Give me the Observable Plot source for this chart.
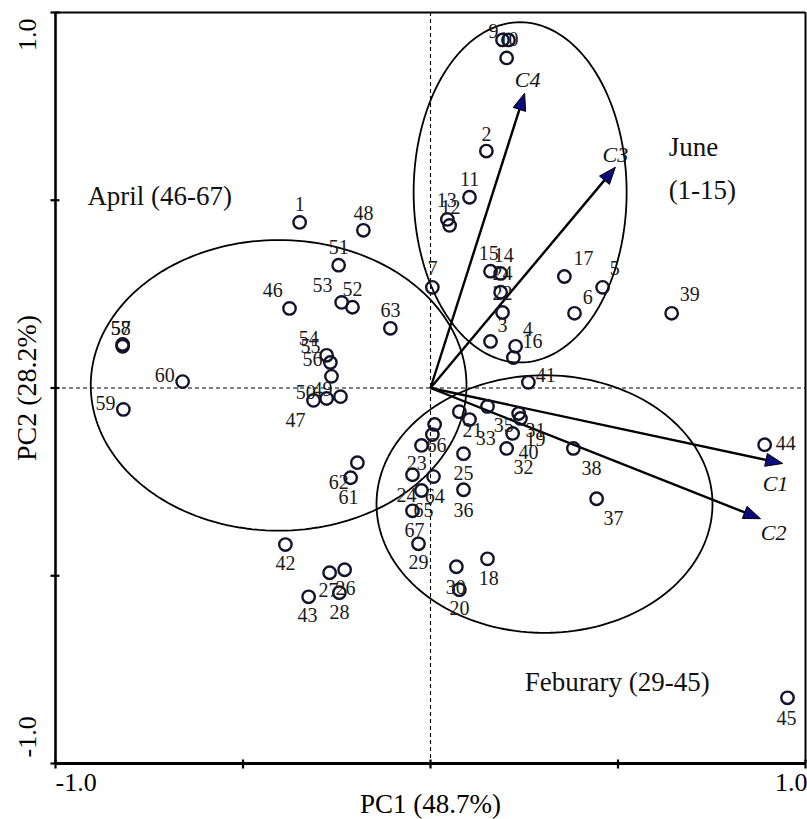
<!DOCTYPE html>
<html>
<head>
<meta charset="utf-8">
<script src="https://cdn.jsdelivr.net/npm/d3@7"></script>
<script src="https://cdn.jsdelivr.net/npm/@observablehq/plot@0.6"></script>
<style>
  html, body { margin: 0; padding: 0; background: #fff; }
  #chart svg { display: block; }
</style>
</head>
<body>
<div id="chart"></div>
<script>
// ---------- data ----------
const pointLabels = ["1","2","3","4","5","6","7","","9","10","11","12","13","14","15","16","17","24","22",
  "21","33","35","31","19","40","32","38","37","25","36","41","39","44","45","18","20","30","29",
  "","66","23","24","64","65","67","46","48","51","52","53","63","54","55","56","50","49","47",
  "57","58","59","60","61","62","42","43","26","27","28"];
const pc1Scores = [-0.349,0.149,0.160,0.227,0.459,0.384,0.005,0.203,0.192,0.208,0.104,0.051,0.045,0.187,0.160,0.221,0.357,0.187,0.192,
  0.077,0.104,0.152,0.235,0.240,0.219,0.203,0.381,0.443,0.088,0.088,0.261,0.643,0.891,0.952,0.152,0.077,0.069,-0.032,
  0.011,0.005,-0.024,-0.048,0.008,-0.024,-0.048,-0.376,-0.179,-0.245,-0.208,-0.237,-0.107,-0.277,-0.267,-0.264,-0.312,-0.277,-0.240,
  -0.821,-0.821,-0.819,-0.661,-0.213,-0.195,-0.387,-0.325,-0.229,-0.269,-0.243];
const pc2Scores = [0.441,0.631,0.124,0.111,0.268,0.199,0.268,0.879,0.927,0.927,0.508,0.433,0.449,0.305,0.311,0.081,0.297,0.255,0.201,
  -0.063,-0.084,-0.049,-0.068,-0.081,-0.121,-0.161,-0.161,-0.295,-0.175,-0.271,0.015,0.199,-0.151,-0.825,-0.455,-0.537,-0.476,-0.415,
  -0.097,-0.124,-0.153,-0.231,-0.236,-0.273,-0.327,0.212,0.420,0.327,0.215,0.228,0.159,0.087,0.068,0.031,-0.033,-0.028,-0.023,
  0.116,0.111,-0.057,0.017,-0.239,-0.199,-0.417,-0.556,-0.484,-0.492,-0.545];
const labelPc1 = [-0.349,0.149,0.192,0.259,0.491,0.419,0.005,0.203,0.168,0.208,0.104,0.053,0.043,0.195,0.155,0.272,0.408,0.192,0.192,
  0.112,0.147,0.195,0.280,0.280,0.261,0.248,0.429,0.488,0.088,0.088,0.307,0.691,0.947,0.949,0.155,0.077,0.067,-0.032,
  0.011,0.016,-0.037,-0.064,0.011,-0.019,-0.043,-0.421,-0.179,-0.245,-0.208,-0.288,-0.107,-0.325,-0.320,-0.315,-0.333,-0.288,-0.360,
  -0.826,-0.826,-0.867,-0.709,-0.219,-0.245,-0.387,-0.328,-0.227,-0.272,-0.243];
const labelPc2 = [0.489,0.676,0.167,0.156,0.319,0.241,0.319,0.879,0.948,0.927,0.556,0.481,0.500,0.353,0.359,0.124,0.345,0.305,0.252,
  -0.113,-0.135,-0.100,-0.113,-0.137,-0.172,-0.212,-0.215,-0.348,-0.228,-0.327,0.033,0.249,-0.148,-0.881,-0.508,-0.588,-0.532,-0.465,
  -0.097,-0.153,-0.201,-0.287,-0.289,-0.327,-0.380,0.260,0.465,0.375,0.263,0.273,0.207,0.132,0.111,0.076,-0.012,-0.004,-0.087,
  0.159,0.159,-0.041,0.033,-0.292,-0.252,-0.468,-0.607,-0.535,-0.540,-0.599];

const variables = ["C1","C2","C3","C4"];
const loadPc1 = [0.939, 0.880, 0.493, 0.251];
const loadPc2 = [-0.201, -0.348, 0.588, 0.785];
const varLabelPc1 = [0.920, 0.915, 0.493, 0.259];
const varLabelPc2 = [-0.255, -0.385, 0.620, 0.820];

const groupNames = ["April", "June", "Feburary"];
const ellipseCx = [-0.405, 0.239, 0.304];
const ellipseCy = [0.007, 0.521, -0.309];
const ellipseRx = [0.501, 0.284, 0.448];
const ellipseRy = [0.387, 0.453, 0.343];

const groupTexts = ["April (46-67)", "June", "(1-15)", "Feburary (29-45)"];
const groupTextPc1 = [-0.915, 0.635, 0.635, 0.251];
const groupTextPc2 = [0.511, 0.641, 0.527, -0.785];

const axisTicks = [-1, -0.5, 0, 0.5, 1];
const tickLabelLow = "-1.0";
const tickLabelHigh = "1.0";
const xTitle = "PC1 (48.7%)";
const yTitle = "PC2 (28.2%)";

// ---------- derived tables ----------
const points = pointLabels.map((label, i) => ({label, x: pc1Scores[i], y: pc2Scores[i], lx: labelPc1[i], ly: labelPc2[i]}));
const vars = variables.map((name, i) => ({name, x: loadPc1[i], y: loadPc2[i], lx: varLabelPc1[i], ly: varLabelPc2[i]}));
const ellipsePts = [];
groupNames.forEach((g, k) => {
  const n = 180;
  for (let j = 0; j <= n; j++) {
    const t = (j / n) * 2 * Math.PI;
    ellipsePts.push({g, x: ellipseCx[k] + ellipseRx[k] * Math.cos(t), y: ellipseCy[k] + ellipseRy[k] * Math.sin(t)});
  }
});
const groupLabelRows = groupTexts.map((t, i) => ({t, x: groupTextPc1[i], y: groupTextPc2[i]}));

const W = 807, H = 819;
const mL = 55, mR = 2, mT = 12, mB = 56;
const pxPerUnit = (W - mL - mR) / 2;
const headLen = 17, headWidth = 13;

function headSymbol(ux, uy) {
  return {
    draw(ctx) {
      const bx = -ux * headLen, by = -uy * headLen;
      const px = -uy, py = ux;
      ctx.moveTo(0, 0);
      ctx.lineTo(bx + px * headWidth / 2, by + py * headWidth / 2);
      ctx.lineTo(bx - px * headWidth / 2, by - py * headWidth / 2);
      ctx.closePath();
    }
  };
}
const arrowLines = vars.map(v => {
  const len = Math.hypot(v.x, v.y);
  const back = (headLen * 0.8) / pxPerUnit;
  return {x1: 0, y1: 0, x2: v.x - v.x / len * back, y2: v.y - v.y / len * back};
});
const headMarks = vars.map(v => {
  const len = Math.hypot(v.x, v.y);
  return Plot.dot([v], {x: "x", y: "y", symbol: headSymbol(v.x / len, -v.y / len), r: 6,
    fill: "#0b0b7a", stroke: "#000", strokeWidth: 1});
});

const yTickSym = {draw(ctx) { ctx.moveTo(-5, 0); ctx.lineTo(4, 0); }};
const xTickSym = {draw(ctx) { ctx.moveTo(0, -4); ctx.lineTo(0, 5); }};

const serif = "'Liberation Serif', 'Times New Roman', Times, serif";

const chart = Plot.plot({
  width: W, height: H,
  marginLeft: mL, marginRight: mR, marginTop: mT, marginBottom: mB,
  style: {fontFamily: serif, background: "#fff", color: "#000", overflow: "visible"},
  x: {domain: [-1, 1], axis: null},
  y: {domain: [-1, 1], axis: null},
  marks: [
    // dashed origin lines
    Plot.ruleX([0], {stroke: "#000", strokeWidth: 1.1, strokeDasharray: "4,3"}),
    Plot.ruleY([0], {stroke: "#000", strokeWidth: 1.1, strokeDasharray: "4,3"}),
    // group ellipses
    Plot.line(ellipsePts, {x: "x", y: "y", z: "g", stroke: "#000", strokeWidth: 1.8, curve: "linear"}),
    // loadings arrows
    Plot.link(arrowLines, {x1: "x1", y1: "y1", x2: "x2", y2: "y2", stroke: "#000", strokeWidth: 2.4}),
    ...headMarks,
    Plot.text(vars, {x: "lx", y: "ly", text: "name", fontSize: 22, fontStyle: "italic", fill: "#111", lineAnchor: "middle"}),
    // sample points
    Plot.dot(points, {x: "x", y: "y", r: 6.2, stroke: "#12122a", strokeWidth: 2.4, fill: "none"}),
    Plot.text(points, {x: "lx", y: "ly", text: "label", fontSize: 20, fill: "#1a1a1a", lineAnchor: "middle"}),
    // group labels
    Plot.text(groupLabelRows, {x: "x", y: "y", text: "t", fontSize: 27, textAnchor: "start", lineAnchor: "middle", fill: "#111"}),
    // frame
    Plot.ruleX([-1], {stroke: "#000", strokeWidth: 2.6}),
    Plot.ruleX([1], {stroke: "#000", strokeWidth: 2}),
    Plot.ruleY([1], {stroke: "#000", strokeWidth: 2.2}),
    Plot.ruleY([-1], {stroke: "#000", strokeWidth: 3.2}),
    // ticks
    Plot.dot(axisTicks, {x: -1, y: d => d, symbol: yTickSym, stroke: "#000", strokeWidth: 2.2, fill: "none"}),
    Plot.dot(axisTicks, {x: d => d, y: -1, symbol: xTickSym, stroke: "#000", strokeWidth: 2.2, fill: "none"}),
    // x tick labels
    Plot.text([tickLabelLow], {x: -1, y: -1, text: d => d, fontSize: 26, textAnchor: "start", lineAnchor: "middle", dy: 19}),
    Plot.text([tickLabelHigh], {x: 1, y: -1, text: d => d, fontSize: 26, textAnchor: "end", lineAnchor: "middle", dx: 2, dy: 19}),
    // y tick labels
    Plot.text([tickLabelHigh], {x: -1, y: 1, text: d => d, fontSize: 26, rotate: -90, textAnchor: "end", lineAnchor: "middle", dx: -28, dy: 6}),
    Plot.text([tickLabelLow], {x: -1, y: -1, text: d => d, fontSize: 26, rotate: -90, textAnchor: "start", lineAnchor: "middle", dx: -28, dy: -6}),
    // axis titles
    Plot.text([xTitle], {x: 0, y: -1, text: d => d, fontSize: 27, lineAnchor: "middle", dy: 41}),
    Plot.text([yTitle], {x: -1, y: 0, text: d => d, fontSize: 28, rotate: -90, lineAnchor: "middle", dx: -28})
  ]
});
document.getElementById("chart").appendChild(chart);
</script>
</body>
</html>
